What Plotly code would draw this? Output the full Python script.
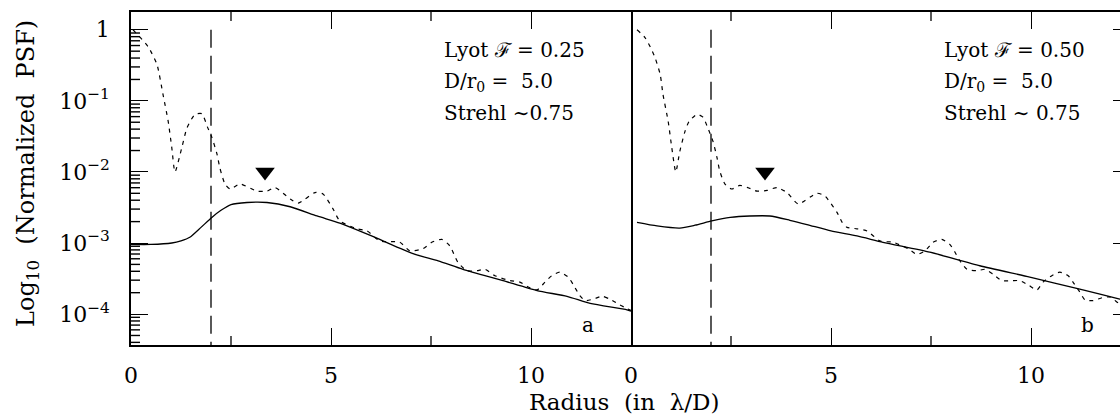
import numpy as np
import plotly.graph_objects as go

# ---------------- data (log10 of normalized PSF) ----------------
# Panel a : Lyot F = 0.25
a_dot_r = [0.05, 0.43, 0.65, 0.8, 0.93, 1.02, 1.1, 1.27, 1.4, 1.6, 1.77, 1.92, 2.02, 2.15, 2.22,
           2.35, 2.48, 2.72, 3.15, 3.4, 3.6, 3.98, 4.18, 4.6, 4.8, 5.05, 5.22, 5.65, 5.9, 6.22,
           6.72, 6.97, 7.3, 7.52, 7.77, 7.97, 8.17, 8.4, 8.65, 8.85, 9.1, 9.48, 9.72, 9.93, 10.15,
           10.35, 10.52, 10.72, 10.93, 11.05, 11.22, 11.35, 11.55, 11.78, 11.97, 12.22, 12.5]
a_dot_v = [0.0, -0.24, -0.49, -0.91, -1.29, -1.66, -2.0, -1.66, -1.38, -1.19, -1.18, -1.38, -1.51, -1.75, -1.94,
           -2.17, -2.24, -2.17, -2.27, -2.27, -2.22, -2.38, -2.44, -2.29, -2.31, -2.52, -2.69, -2.8, -2.83, -2.97,
           -2.99, -3.11, -3.08, -2.99, -2.95, -3.04, -3.27, -3.39, -3.39, -3.37, -3.46, -3.53, -3.55, -3.62, -3.66,
           -3.55, -3.46, -3.41, -3.48, -3.58, -3.74, -3.81, -3.79, -3.75, -3.79, -3.87, -3.95]
a_sol_r = [0.0, 0.5, 1.02, 1.25, 1.47, 1.75, 2.02, 2.25, 2.5, 2.9, 3.4, 3.98, 4.65, 5.22, 5.8, 6.22,
           7.05, 7.68, 8.3, 9.3, 10.15, 10.9, 11.48, 12.4, 12.5]
a_sol_v = [-3.02, -3.02, -3.0, -2.97, -2.92, -2.78, -2.64, -2.54, -2.46, -2.43, -2.43, -2.49, -2.62, -2.72, -2.85, -2.95,
           -3.15, -3.25, -3.37, -3.53, -3.67, -3.75, -3.85, -3.94, -3.96]

# Panel b : Lyot F = 0.50
b_dot_r = [0.15, 0.35, 0.48, 0.6, 0.73, 0.8, 0.93, 1.02, 1.12, 1.22, 1.35, 1.45, 1.65, 1.8, 1.92, 2.05, 2.15,
           2.22, 2.35, 2.52, 2.72, 2.92, 3.15, 3.4, 3.65, 3.9, 4.18, 4.65, 4.85, 5.15, 5.28, 5.4, 5.65, 5.9,
           6.22, 6.55, 6.93, 7.15, 7.35, 7.55, 7.77, 7.97, 8.1, 8.22, 8.4, 8.65, 8.85, 9.05, 9.27, 9.52, 9.72,
           9.93, 10.15, 10.3, 10.52, 10.72, 10.93, 11.05, 11.22, 11.35, 11.55, 11.78, 11.97, 12.22, 12.5]
b_dot_v = [0.0, -0.11, -0.24, -0.39, -0.63, -0.91, -1.29, -1.66, -2.0, -1.71, -1.43, -1.29, -1.19, -1.23, -1.38, -1.57, -1.8,
           -1.99, -2.17, -2.24, -2.19, -2.22, -2.27, -2.26, -2.22, -2.29, -2.45, -2.3, -2.34, -2.57, -2.71, -2.78, -2.8, -2.83,
           -2.97, -2.99, -3.08, -3.16, -3.11, -2.99, -2.95, -3.02, -3.13, -3.25, -3.37, -3.39, -3.37, -3.44, -3.53, -3.53, -3.53,
           -3.59, -3.66, -3.55, -3.46, -3.41, -3.46, -3.55, -3.69, -3.8, -3.81, -3.77, -3.76, -3.86, -3.93]
b_sol_r = [0.15, 0.65, 1.22, 1.6, 2.02, 2.48, 2.97, 3.47, 3.97, 4.4, 5.0, 5.65, 6.3, 7.47, 8.72, 9.97, 11.22, 12.22, 12.5]
b_sol_v = [-2.71, -2.76, -2.79, -2.75, -2.69, -2.64, -2.62, -2.62, -2.68, -2.74, -2.83, -2.9, -2.99, -3.13, -3.32, -3.48,
           -3.65, -3.79, -3.83]

cutoff_r = 2.0              # dashed vertical line
marker_r = [3.35]           # triangle marker
marker_v = [-2.0]

NB = "\u00a0"
panel_text = [
    ["Lyot" + NB + "\u2131 = 0.25", "D/r<sub>0</sub> =" + NB + NB + "5.0", "Strehl" + NB + "\u223c0.75"],
    ["Lyot" + NB + "\u2131 = 0.50", "D/r<sub>0</sub> =" + NB + NB + "5.0", "Strehl" + NB + "\u223c" + NB + "0.75"],
]
panel_letters = ["a", "b"]

x_ticks = [0, 5, 10]
x_minor = [2.5, 7.5]
y_ticks = [0, -1, -2, -3, -4]
y_ticktext = ["1", "10<sup>\u22121</sup>", "10<sup>\u22122</sup>", "10<sup>\u22123</sup>", "10<sup>\u22124</sup>"]
y_range = [-4.435, 0.25]
y_minor = [n + np.log10(k) for n in range(-5, 1) for k in range(2, 10)]
y_minor = [round(float(v), 5) for v in y_minor if y_range[0] <= v <= y_range[1]]

FONT = "DejaVu Serif"
BLACK = "black"

fig = go.Figure()

panels = [
    ("x", "y", a_dot_r, a_dot_v, a_sol_r, a_sol_v),
    ("x2", "y2", b_dot_r, b_dot_v, b_sol_r, b_sol_v),
]
for xa, ya, dr, dv, sr, sv in panels:
    fig.add_trace(go.Scatter(x=dr, y=dv, mode="lines", xaxis=xa, yaxis=ya,
                             line=dict(color=BLACK, width=1.2, dash="4px,5px", shape="spline", smoothing=0.6)))
    fig.add_trace(go.Scatter(x=sr, y=sv, mode="lines", xaxis=xa, yaxis=ya,
                             line=dict(color=BLACK, width=1.3, shape="spline", smoothing=0.6)))
    fig.add_trace(go.Scatter(x=[cutoff_r, cutoff_r], y=[0, y_range[0]], mode="lines", xaxis=xa, yaxis=ya,
                             line=dict(color=BLACK, width=1.3, dash="18px,8px")))
    fig.add_trace(go.Scatter(x=marker_r, y=marker_v, mode="markers", xaxis=xa, yaxis=ya,
                             marker=dict(symbol="triangle-down", size=17, color=BLACK)))

W, H = 1120, 416
ML, MR, MT, MB = 131, 0, 12, 71
PW = W - ML - MR
split = 500 / PW

xcommon = dict(tickmode="array", tickvals=x_ticks, ticktext=[str(t) for t in x_ticks], ticks="inside",
               ticklen=17, tickwidth=1.3, tickcolor=BLACK, showline=True, linewidth=2.2, linecolor=BLACK,
               mirror="ticks", showgrid=False, zeroline=False, ticklabelstandoff=9,
               tickfont=dict(family=FONT, size=22, color=BLACK))

fig.update_layout(
    width=W, height=H, margin=dict(l=ML, r=MR, t=MT, b=MB),
    paper_bgcolor="white", plot_bgcolor="white", showlegend=False,
    xaxis=dict(domain=[0, split], range=[0, 12.5], anchor="y", **xcommon),
    xaxis2=dict(domain=[split, 1], range=[0, 12.225], anchor="y2", **xcommon),
    yaxis=dict(domain=[0, 1], range=y_range, anchor="x", tickmode="array", tickvals=y_ticks, ticktext=y_ticktext,
               ticks="inside", ticklen=17, tickwidth=1.3, tickcolor=BLACK, showline=True, linewidth=1.5,
               linecolor=BLACK, mirror=True, showgrid=False, zeroline=False, ticklabelstandoff=15,
               tickfont=dict(family=FONT, size=22, color=BLACK)),
    yaxis2=dict(domain=[0, 1], range=y_range, anchor="x2", side="right", tickmode="array", tickvals=y_ticks,
                showticklabels=False, ticks="inside", ticklen=7, tickwidth=1.3, tickcolor=BLACK,
                showline=False, showgrid=False, zeroline=False),
)

# minor ticks (inside) placed at the minor tick values
shapes = []
for v in y_minor:
    shapes.append(dict(type="line", xref="x domain", yref="y", x0=0, x1=9 / 500,
                       y0=v, y1=v, line=dict(color=BLACK, width=1.4), layer="above"))
for xa, ya in [("x", "y"), ("x2", "y2")]:
    for v in x_minor:
        shapes.append(dict(type="line", xref=xa, yref=ya, ysizemode="pixel", yanchor=y_range[0], y0=0, y1=9,
                           x0=v, x1=v, line=dict(color=BLACK, width=1.3), layer="above"))
        shapes.append(dict(type="line", xref=xa, yref=ya, ysizemode="pixel", yanchor=y_range[1], y0=0, y1=-9,
                           x0=v, x1=v, line=dict(color=BLACK, width=1.3), layer="above"))
fig.update_layout(shapes=shapes)

annotations = []
for i, (xr, yr) in enumerate([("x", "y"), ("x2", "y2")]):
    for j, (txt, yd) in enumerate(zip(panel_text[i], [0.886, 0.790, 0.697])):
        annotations.append(dict(text=txt, x=7.78, y=yd, xref=xr, yref=yr + " domain", xanchor="left",
                                yanchor="middle", showarrow=False, font=dict(family=FONT, size=20, color=BLACK)))
    annotations.append(dict(text=panel_letters[i], x=11.42, y=0.06, xref=xr, yref=yr + " domain", xanchor="center",
                            yanchor="middle", showarrow=False, font=dict(family=FONT, size=20, color=BLACK)))

annotations.append(dict(text="Radius" + NB + " (in" + NB + " \u03bb/D)", x=(624 - ML) / PW,
                        y=(H - MB - 402) / (H - MT - MB),
                        xref="paper", yref="paper", xanchor="center", yanchor="middle", showarrow=False,
                        font=dict(family=FONT, size=23, color=BLACK)))
annotations.append(dict(text="Log<sub>10</sub>" + NB + " (Normalized" + NB + " PSF)", x=(27 - ML) / PW,
                        y=(H - MB - 174) / (H - MT - MB), xref="paper", yref="paper", xanchor="center",
                        yanchor="middle", textangle=-90, showarrow=False,
                        font=dict(family=FONT, size=24, color=BLACK)))
fig.update_layout(annotations=annotations)

fig.write_html("out.html")
